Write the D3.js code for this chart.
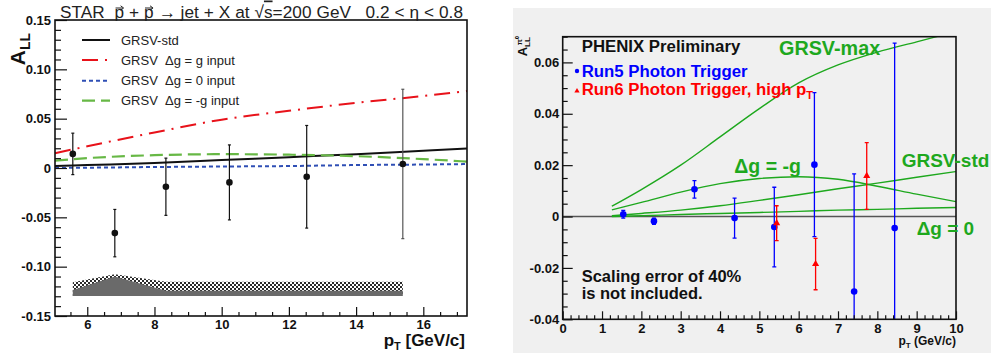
<!DOCTYPE html>
<html><head><meta charset="utf-8">
<script src="https://cdn.jsdelivr.net/npm/d3@7"></script>
<style>
html,body{margin:0;padding:0;background:#fff;}
svg{display:block;font-family:"Liberation Sans",Arial,sans-serif;}
text{white-space:pre;}
</style></head>
<body>
<svg id="c" width="991" height="356"></svg>
<script>
// ---------- Left panel data (STAR) ----------
const starX = [5.57, 6.82, 8.34, 10.23, 12.53, 15.39];
const starY = [0.0143, -0.066, -0.019, -0.0146, -0.0089, 0.0041];
const starErr = [0.021, 0.024, 0.029, 0.038, 0.052, 0.0757];
const sysHatchTop = [-0.1159, -0.1077, -0.1152, -0.1152, -0.1152, -0.1152];
const sysDarkTop = [-0.1236, -0.110, -0.1244, -0.1244, -0.1244, -0.1244];
const sysBottom = -0.1297;
const curveXL = [5.04, 6, 8, 10, 12, 14, 16, 17.3];
const grsvStdL = [0.002, 0.003, 0.005, 0.008, 0.011, 0.014, 0.0175, 0.0197];
const grsvGL = [0.015, 0.022, 0.036, 0.049, 0.058, 0.066, 0.073, 0.078];
const grsv0L = [0.0, 0.0003, 0.001, 0.0015, 0.002, 0.003, 0.0035, 0.004];
const grsvMinusGL = [0.0075, 0.010, 0.013, 0.014, 0.0135, 0.012, 0.009, 0.0065];
const leftYTicks = [-0.15, -0.10, -0.05, 0, 0.05, 0.10, 0.15];
const leftYLabels = ["-0.15", "-0.10", "-0.05", "0", "0.05", "0.10", "0.15"];
const leftXTicks = [6, 8, 10, 12, 14, 16];
const leftXLabels = ["6", "8", "10", "12", "14", "16"];
const legendLabels = ["GRSV-std", "GRSV  \u0394g = g input", "GRSV  \u0394g = 0 input", "GRSV  \u0394g = -g input"];

// ---------- Right panel data (PHENIX) ----------
const run5X = [1.54, 2.32, 3.35, 4.37, 5.38, 6.40, 7.41, 8.44];
const run5Y = [0.0009, -0.0018, 0.0106, -0.0006, -0.0041, 0.0202, -0.0292, -0.0045];
const run5Err = [0.0015, 0.0012, 0.0034, 0.0078, 0.0155, 0.028, 0.0458, 0.072];
const run6X = [5.44, 6.43, 7.73];
const run6Y = [-0.0026, -0.0185, 0.0158];
const run6Err = [0.0068, 0.010, 0.013];
const curveXR = [1.25, 2, 3, 4, 5, 6, 7, 8, 9, 10];
const grsvMaxR = [0.004, 0.0105, 0.020, 0.031, 0.042, 0.052, 0.059, 0.064, 0.068, 0.072];
const minusGR = [0.0026, 0.0055, 0.0095, 0.0128, 0.0148, 0.0155, 0.0145, 0.0118, 0.0087, 0.0058];
const grsvStdR = [0.0003, 0.0012, 0.0025, 0.0042, 0.0063, 0.0085, 0.0108, 0.013, 0.0153, 0.0175];
const zeroR = [0.0, 0.0003, 0.0008, 0.0012, 0.0016, 0.002, 0.0025, 0.0028, 0.0032, 0.0035];
const rightYTicks = [-0.04, -0.02, 0, 0.02, 0.04, 0.06];
const rightYLabels = ["-0.04", "-0.02", "0", "0.02", "0.04", "0.06"];
const rightXTicks = [0, 1, 2, 3, 4, 5, 6, 7, 8, 9, 10];

const svg = d3.select("#c");
const defs = svg.append("defs");

// ================= LEFT PANEL =================
const xL = d3.scaleLinear().domain([5.04, 17.3]).range([55, 467]);
const yL = d3.scaleLinear().domain([-0.15, 0.15]).range([316, 20]);
const gL = svg.append("g");

// hatch pattern
const pat = defs.append("pattern").attr("id", "hatch").attr("patternUnits", "userSpaceOnUse")
  .attr("width", 4).attr("height", 4);
pat.append("rect").attr("width", 4).attr("height", 4).attr("fill", "#2a2a2a");
pat.append("rect").attr("width", 2).attr("height", 2).attr("fill", "#fff");
pat.append("rect").attr("x", 2).attr("y", 2).attr("width", 2).attr("height", 2).attr("fill", "#fff");

const sysIdx = d3.range(starX.length);
gL.append("path")
  .attr("d", d3.area().x(i => xL(starX[i])).y0(yL(sysBottom)).y1(i => yL(sysHatchTop[i]))(sysIdx))
  .attr("fill", "url(#hatch)");
gL.append("path")
  .attr("d", d3.area().x(i => xL(starX[i])).y0(yL(sysBottom)).y1(i => yL(sysDarkTop[i]))(sysIdx))
  .attr("fill", "#6a6a6a");

// curves
const lineL = ys => d3.line().x((d, i) => xL(curveXL[i])).y(d => yL(d)).curve(d3.curveMonotoneX)(ys);
const curvesL = [
  {ys: grsvStdL, color: "#111", dash: null, w: 2},
  {ys: grsvGL, color: "#e8121a", dash: "16,7,2,7", w: 2},
  {ys: grsv0L, color: "#2f4fb5", dash: "4,3", w: 2},
  {ys: grsvMinusGL, color: "#67b845", dash: "13,6", w: 2.2}
];
curvesL.forEach(c => {
  gL.append("path").attr("d", lineL(c.ys)).attr("fill", "none").attr("stroke", c.color)
    .attr("stroke-width", c.w).attr("stroke-dasharray", c.dash);
});

// data points
starX.forEach((x, i) => {
  const cx = xL(x);
  const col = i === 5 ? "#555" : "#111";
  gL.append("line").attr("x1", cx).attr("x2", cx).attr("y1", yL(starY[i] + starErr[i])).attr("y2", yL(starY[i] - starErr[i]))
    .attr("stroke", col).attr("stroke-width", 1.2);
  [starY[i] + starErr[i], starY[i] - starErr[i]].forEach(v => {
    gL.append("line").attr("x1", cx - 1.5).attr("x2", cx + 1.5).attr("y1", yL(v)).attr("y2", yL(v))
      .attr("stroke", col).attr("stroke-width", 1.2);
  });
  gL.append("circle").attr("cx", cx).attr("cy", yL(starY[i])).attr("r", 3.3).attr("fill", "#111");
});

// legend
const legY = [40, 60, 80.7, 100.7];
curvesL.forEach((c, i) => {
  gL.append("line").attr("x1", 82).attr("x2", 110).attr("y1", legY[i]).attr("y2", legY[i])
    .attr("stroke", c.color).attr("stroke-width", c.w).attr("stroke-dasharray", c.dash);
  gL.append("text").attr("x", 121).attr("y", legY[i] + 4.6).attr("font-size", 13).attr("fill", "#222")
    .text(legendLabels[i]);
});

// axes
const axLY = d3.axisLeft(yL).tickValues(leftYTicks).tickFormat((d, i) => leftYLabels[i])
  .tickSizeInner(-12).tickSizeOuter(0).tickPadding(4);
const gAxLY = gL.append("g").attr("transform", "translate(55,0)").call(axLY);
const minorLY = d3.range(-15, 16).map(k => k / 100).filter(v => Math.abs(Math.round(v * 100) % 5) !== 0);
gL.append("g").attr("transform", "translate(55,0)")
  .call(d3.axisLeft(yL).tickValues(minorLY).tickFormat("").tickSizeInner(-6).tickSizeOuter(0));
const axLX = d3.axisBottom(xL).tickValues(leftXTicks).tickFormat((d, i) => leftXLabels[i])
  .tickSizeInner(-9).tickSizeOuter(0).tickPadding(4);
const gAxLX = gL.append("g").attr("transform", "translate(0,316)").call(axLX);
const minorLX = d3.range(5.5, 17.3, 0.5).filter(v => v % 2 !== 0);
gL.append("g").attr("transform", "translate(0,316)")
  .call(d3.axisBottom(xL).tickValues(minorLX).tickFormat("").tickSizeInner(-4).tickSizeOuter(0));
gL.selectAll(".domain").remove();
gL.selectAll(".tick line").attr("stroke", "#111").attr("stroke-width", 1.2);
[gAxLY, gAxLX].forEach(g => g.selectAll("text").attr("font-family", "Liberation Sans, Arial, sans-serif")
  .attr("font-weight", "bold").attr("font-size", 13).attr("fill", "#111"));

gL.append("rect").attr("x", 55).attr("y", 20).attr("width", 412).attr("height", 296)
  .attr("fill", "none").attr("stroke", "#111").attr("stroke-width", 1.6);

// titles
const t = gL.append("text").attr("x", 60).attr("y", 17.5).attr("font-size", 17.2).attr("fill", "#222")
  .attr("textLength", 403).attr("lengthAdjust", "spacing");
t.append("tspan").text("STAR  p + p \u2192 jet + X at \u221A");
t.append("tspan").attr("text-decoration", "overline").text("s");
t.append("tspan").text("=200 GeV   0.2 < \u03B7 < 0.8");
// vector arrows over the two "p"
[6, 10].forEach(ci => {
  const ext = t.node().getExtentOfChar(ci);
  const x0 = ext.x + 1, x1 = ext.x + ext.width - 0.5, ay = 8;
  gL.append("line").attr("x1", x0).attr("x2", x1 - 1).attr("y1", ay).attr("y2", ay)
    .attr("stroke", "#222").attr("stroke-width", 1);
  gL.append("path").attr("d", `M${x1 - 3},${ay - 2.2}L${x1},${ay}L${x1 - 3},${ay + 2.2}`)
    .attr("fill", "none").attr("stroke", "#222").attr("stroke-width", 1);
});

const xt = gL.append("text").attr("x", 465).attr("y", 346).attr("text-anchor", "end")
  .attr("font-size", 17).attr("font-weight", "bold").attr("fill", "#111");
xt.append("tspan").text("p");
xt.append("tspan").attr("font-size", 11).attr("dy", 4).text("T");
xt.append("tspan").attr("dy", -4).text(" [GeV/c]");

const yt = gL.append("text").attr("transform", "translate(25,33) rotate(-90)").attr("text-anchor", "end")
  .attr("font-size", 21).attr("font-weight", "bold").attr("fill", "#111");
yt.append("tspan").text("A");
yt.append("tspan").attr("font-size", 14).attr("dy", 5).text("LL");

// ================= RIGHT PANEL =================
const gR = svg.append("g");
gR.append("rect").attr("x", 513).attr("y", 8).attr("width", 478).attr("height", 345).attr("fill", "#f0f0f0");
const xR = d3.scaleLinear().domain([0, 10]).range([562.7, 956]);
const yR = d3.scaleLinear().domain([-0.04, 0.07]).range([319.3, 36.7]);

defs.append("clipPath").attr("id", "clipR").append("rect")
  .attr("x", 562.7).attr("y", 36.7).attr("width", 956 - 562.7).attr("height", 319.3 - 36.7);

const green = "#1ea81e";
// zero line
gR.append("line").attr("x1", xR(0)).attr("x2", xR(10)).attr("y1", yR(0)).attr("y2", yR(0))
  .attr("stroke", "#555").attr("stroke-width", 1.5);

const lineR = ys => d3.line().x((d, i) => xR(curveXR[i])).y(d => yR(d)).curve(d3.curveMonotoneX)(ys);
const gClip = gR.append("g").attr("clip-path", "url(#clipR)");
[grsvMaxR, minusGR, grsvStdR, zeroR].forEach(ys => {
  gClip.append("path").attr("d", lineR(ys)).attr("fill", "none").attr("stroke", green).attr("stroke-width", 1.4);
});

// error bars & points
function errBar(g, x, y, e, color) {
  const cx = xR(x);
  g.append("line").attr("x1", cx).attr("x2", cx).attr("y1", yR(y + e)).attr("y2", yR(y - e))
    .attr("stroke", color).attr("stroke-width", 1.3);
  [y + e, y - e].forEach(v => {
    g.append("line").attr("x1", cx - 2).attr("x2", cx + 2).attr("y1", yR(v)).attr("y2", yR(v))
      .attr("stroke", color).attr("stroke-width", 1.3);
  });
}
run5X.forEach((x, i) => {
  errBar(gClip, x, run5Y[i], run5Err[i], "#0000ff");
  gClip.append("circle").attr("cx", xR(x)).attr("cy", yR(run5Y[i])).attr("r", 3.3).attr("fill", "#0000ff");
});
const tri = d3.symbol().type(d3.symbolTriangle).size(22);
run6X.forEach((x, i) => {
  errBar(gClip, x, run6Y[i], run6Err[i], "#ff0000");
  gClip.append("path").attr("d", tri()).attr("transform", `translate(${xR(x)},${yR(run6Y[i])})`).attr("fill", "#ff0000");
});

// axes
const axRY = d3.axisLeft(yR).tickValues(rightYTicks).tickFormat((d, i) => rightYLabels[i])
  .tickSizeInner(-10).tickSizeOuter(0).tickPadding(3.5);
const gAxRY = gR.append("g").attr("transform", "translate(562.7,0)").call(axRY);
const minorRY = d3.range(-40, 71, 5).filter(v => v % 20 !== 0).map(v => v / 1000);
gR.append("g").attr("transform", "translate(562.7,0)")
  .call(d3.axisLeft(yR).tickValues(minorRY).tickFormat("").tickSizeInner(-5).tickSizeOuter(0));
const axRX = d3.axisBottom(xR).tickValues(rightXTicks).tickFormat(d3.format("d"))
  .tickSizeInner(-8).tickSizeOuter(0).tickPadding(4);
const gAxRX = gR.append("g").attr("transform", "translate(0,319.3)").call(axRX);
const minorRX = d3.range(0, 50).map(k => k / 5).filter(v => Math.abs(v - Math.round(v)) > 0.01);
gR.append("g").attr("transform", "translate(0,319.3)")
  .call(d3.axisBottom(xR).tickValues(minorRX).tickFormat("").tickSizeInner(-4).tickSizeOuter(0));
gR.selectAll(".domain").remove();
gR.selectAll(".tick line").attr("stroke", "#111").attr("stroke-width", 1.2);
[gAxRY, gAxRX].forEach(g => g.selectAll("text").attr("font-family", "Liberation Sans, Arial, sans-serif")
  .attr("font-weight", "bold").attr("font-size", 13).attr("fill", "#111"));

gR.append("rect").attr("x", 562.7).attr("y", 36.7).attr("width", 956 - 562.7).attr("height", 319.3 - 36.7)
  .attr("fill", "none").attr("stroke", "#111").attr("stroke-width", 1.6);

// texts
function txt(g, x, y, s, size, color, anchor) {
  return g.append("text").attr("x", x).attr("y", y).attr("font-size", size).attr("font-weight", "bold")
    .attr("fill", color).attr("text-anchor", anchor || "start").text(s);
}
txt(gR, 581.7, 51.7, "PHENIX Preliminary", 16.8, "#111");
txt(gR, 581.7, 77.3, "Run5 Photon Trigger", 16.8, "#0000ff");
gR.append("circle").attr("cx", 577).attr("cy", 71).attr("r", 2.2).attr("fill", "#0000ff");
const r6 = txt(gR, 581.7, 95, "Run6 Photon Trigger, high p", 16.8, "#ff0000");
r6.append("tspan").attr("font-size", 11).attr("dy", 4).text("T");
gR.append("path").attr("d", d3.symbol().type(d3.symbolTriangle).size(12)()).attr("transform", "translate(577,91)").attr("fill", "#ff0000");

txt(gR, 779, 55, "GRSV-max", 19.8, green);
txt(gR, 734.3, 173.3, "\u0394g = -g", 19.5, green);
txt(gR, 901.7, 166.7, "GRSV-std", 19, green);
txt(gR, 916.7, 235, "\u0394g = 0", 19, green);

txt(gR, 581.7, 281.7, "Scaling error of 40%", 16.5, "#111");
txt(gR, 581.7, 299, "is not included.", 16.5, "#111");

const xtR = gR.append("text").attr("x", 956).attr("y", 345).attr("text-anchor", "end")
  .attr("font-size", 12).attr("font-weight", "bold").attr("fill", "#111");
xtR.append("tspan").text("p");
xtR.append("tspan").attr("font-size", 8).attr("dy", 3).text("T");
xtR.append("tspan").attr("dy", -3).text(" (GeV/c)");

const ytR = gR.append("text").attr("transform", "translate(527,36) rotate(-90)").attr("text-anchor", "end")
  .attr("font-size", 13).attr("font-weight", "bold").attr("fill", "#111");
ytR.append("tspan").text("A");
ytR.append("tspan").attr("font-size", 8).attr("dy", 3).text("LL");
ytR.append("tspan").attr("font-size", 8).attr("dy", -8).attr("dx", -8).text("\u03C0\u2070");
</script>
</body></html>
